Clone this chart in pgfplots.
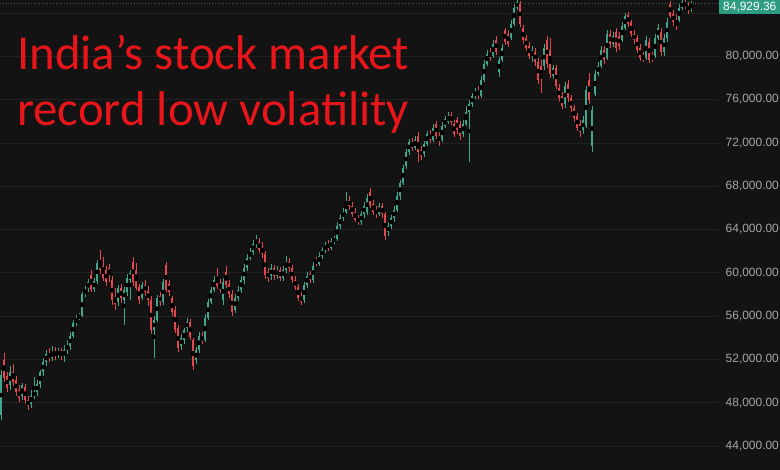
\documentclass[border=0pt]{standalone}
\usepackage{fontspec}
\setmainfont{Liberation Sans}
\newfontfamily\titlefont{Carlito}
\usepackage{pgfplots}
\usepackage{pgfplotstable}
\pgfplotsset{compat=1.18}
\definecolor{bg}{HTML}{131313}
\definecolor{gridc}{HTML}{222222}
\definecolor{upc}{HTML}{42A68C}
\definecolor{dnc}{HTML}{E4484F}
\definecolor{tickc}{HTML}{A6A6A6}
\definecolor{titlec}{HTML}{E8161B}
\definecolor{lastc}{HTML}{2E9C80}

% weekly candles: x o h l c
\pgfplotstableread{
x o h l c
1 46850 51010 46390 50550
10 49630 51380 49160 50830
22 48610 49810 48240 49630
31 47870 49160 47500 48610
34 48610 50370 48330 48980
37 48980 50090 48610 49720
40 49720 51010 49350 50830
43 50830 52120 50460 51750
46 51750 52860 51380 52490
52 52120 53230 51840 52680
58 52400 53050 52120 52770
64 52310 53320 51750 52860
67 52860 53780 52490 53320
70 53230 54520 52860 54150
73 54150 55630 53970 55360
76 55360 56090 55080 55820
79 55820 56280 55630 56000
82 56000 58220 55910 58030
85 58030 58770 57760 58400
88 58590 59420 58220 59140
94 58500 59510 58220 59240
97 59240 61180 58960 60900
118 57300 58870 56930 58590
124 57480 58680 55170 58400
127 58220 59880 57850 59510
130 59330 60250 57480 59980
142 57670 59140 57480 58870
154 54710 56000 52120 55630
157 55630 57940 55450 57670
163 57300 59420 57020 59140
181 53230 54340 52860 53970
184 53780 54890 53410 54710
187 54890 55820 54520 55450
196 51940 53140 51570 52860
199 52860 54520 52580 54150
205 53780 56190 53600 55820
208 55820 57570 55630 57300
211 57300 58680 57110 58400
214 58400 59700 58220 59330
223 57480 59510 57020 59140
235 56560 58030 56280 57670
238 57670 58770 57390 58400
241 58400 59700 58130 59330
244 59330 60810 58960 60440
247 60440 61730 60160 61360
250 61360 62290 61180 61920
253 61920 63020 61640 62650
256 62650 63490 62290 63020
271 59700 60810 59330 60440
277 59700 60620 59420 60250
283 59510 60620 59240 60250
286 60250 61550 59980 60990
304 57480 59140 57200 58870
307 58870 60070 58590 59700
313 59330 60990 59050 60620
319 60810 61920 60620 61550
322 61550 62380 61270 62100
325 62100 62840 61820 62470
331 62290 63210 62100 62930
334 62930 63390 62650 63120
337 63120 64690 62930 64320
340 64320 65430 64040 65060
343 65060 65980 64780 65610
346 65610 67460 65430 66540
361 64690 65700 64410 65430
364 65430 66540 65060 66170
367 65610 67270 65330 66910
379 65430 66440 65240 66170
388 63760 64690 63390 64320
391 64320 65330 64040 65060
394 65060 66170 64690 65800
397 65800 67460 65610 67090
400 67090 68570 66720 68290
403 68290 69950 68110 69680
406 69860 71430 69580 71160
409 71160 72360 70880 72080
415 71530 72630 71340 72260
424 70970 72170 70690 71890
427 71890 73100 71710 72820
433 72260 73740 72080 73370
442 72260 73930 72080 73560
445 73560 74480 73370 74200
448 73930 74850 73740 74480
463 72820 74110 72540 73740
466 73740 75410 73560 74850
469 74850 75960 70230 75590
472 75590 76610 75310 76330
475 76330 77070 76050 76700
481 76330 78180 76150 77810
484 77810 79660 77620 79290
487 79290 80580 79100 80210
493 80030 81500 79840 81130
499 78550 79930 78090 79660
502 79660 81130 79470 80770
511 81690 83350 81500 82980
514 82980 84830 82800 84460
517 84460 85200 84280 85020
532 80030 80950 79470 80580
544 79100 81130 78730 80770
553 78180 79190 77900 78920
565 75590 77620 75220 77250
583 73190 74480 72820 74110
586 73560 77250 73370 76880
592 71710 75410 71160 75040
595 76510 78730 76330 78360
598 78360 79470 78180 79100
601 79100 80950 78920 80580
607 79840 82430 79660 82060
613 81130 82240 80860 81870
622 81500 83170 81320 82800
625 82610 84000 82430 83720
646 79840 81870 79660 81500
655 80030 82060 79840 81690
658 81690 82980 81500 82610
664 80400 82060 80030 81690
667 81690 83540 81320 83170
679 83350 84830 83170 84460
682 84460 85200 84280 85020
691 84460 85110 84090 84930
}\up

\pgfplotstableread{
x o h l c
4 51940 52580 49900 50270
7 50460 50830 48980 49350
13 50830 51570 49530 49900
16 50090 50460 48610 48980
19 49160 49630 48060 48420
25 49440 49720 47870 48240
28 48240 48610 47320 47690
49 52490 53050 51750 52120
55 52680 53140 51940 52310
61 52770 53050 51940 52310
91 59790 60250 58220 58400
100 60990 62100 59880 60250
103 60620 61450 59240 59510
106 60250 60620 58770 59140
109 60440 60810 59140 59790
112 59330 59700 57020 57480
115 57670 58590 56560 57110
121 58590 58960 57200 57670
133 60990 61450 58770 59140
136 60250 60900 58400 58590
139 58680 58960 57110 57480
145 58870 59330 57850 58220
148 58310 58770 56930 57480
151 57480 57850 54340 54710
160 57850 58220 56930 57300
166 60710 60990 58220 58400
169 58960 59330 57850 58220
172 57670 57850 56000 56370
175 56560 56930 54430 54710
178 54890 55170 52680 53050
190 55450 55720 53780 54060
193 53780 53970 51010 51380
202 54150 54520 53410 53690
217 59700 60440 58500 58770
220 58960 59420 58130 58400
226 60070 60620 58590 58870
229 58960 59330 57670 58030
232 58030 58400 56000 56370
259 62840 63210 61820 62100
262 62290 62840 61360 61730
265 61730 62010 59420 59790
268 60070 60440 59140 59510
274 60440 60710 59330 59700
280 60250 60530 59240 59510
289 60990 61360 60070 60440
292 60440 60710 59050 59330
295 59330 59700 58400 58680
298 58680 58960 57390 57670
301 57850 58220 57020 57300
310 59880 60160 59050 59330
316 61180 61450 60620 60810
328 62650 63020 62010 62290
349 66720 67090 65800 66170
352 66170 66540 65150 65430
355 65610 65980 64690 64870
358 65060 65330 64410 64690
370 67460 67830 65980 66170
373 66350 66720 65330 65610
376 65800 66170 65060 65430
382 66170 66440 65060 65430
385 65430 65610 63020 63390
412 72080 72450 71250 71530
418 72630 73000 70230 71160
421 71340 71710 70420 70790
430 72820 73190 71990 72260
436 73740 74020 72360 72630
439 72630 73000 71710 72260
451 74570 74850 73650 73930
454 73740 74110 72540 72820
457 74110 74390 72820 73190
460 73740 74020 72260 72630
478 76790 77250 76050 76330
490 80400 80770 79560 79840
496 81500 81870 80120 80400
505 82430 82610 81040 81320
508 82060 82430 80860 81130
520 84830 85110 82710 82980
523 82610 82890 81130 81500
526 81690 81970 80490 80770
529 80950 81320 79750 80030
535 80400 80770 79100 79470
538 79470 79840 77440 77810
541 79100 79660 76610 77990
547 81500 81870 78920 79290
550 80580 81690 77990 78360
556 78920 79190 76980 77250
559 77070 77440 75780 76150
562 76330 76700 75130 75410
568 77440 77810 75780 76150
571 76150 76420 74850 75220
574 75220 75500 73930 74300
577 74480 74760 73100 73370
580 73740 74110 72540 73000
589 77810 78460 75590 75960
604 80580 80950 79290 79660
610 82060 82430 80770 81130
616 82240 82610 80400 80770
619 81870 82240 80580 80950
628 83810 84090 82710 82980
631 83170 83350 81780 82060
634 82060 82430 81130 81500
637 81690 81970 80300 80580
640 80770 81130 79560 79840
643 80030 80400 79470 79660
649 81320 81690 79380 79660
652 80030 80400 79470 79660
661 82240 82610 80030 80400
670 84830 85110 83540 83720
673 83910 84280 82800 83170
676 83170 83910 82430 82800
685 85020 85200 84370 84650
688 84650 85020 83910 84280
}\dn

\begin{document}
\begin{tikzpicture}
\useasboundingbox (0,0) rectangle (780bp,470bp);
\clip (0,0) rectangle (780bp,470bp);
\fill[bg] (0,0) rectangle (780bp,470bp);
\begin{axis}[
  at={(0,0)}, anchor=south west,
  scale only axis, width=718bp, height=470bp,
  xmin=0, xmax=718, ymin=41772, ymax=85200,
  axis line style={draw=none},
  major tick length=0pt, minor tick length=0pt,
  xtick=\empty,
  minor xtick={60,130,200,271,342,413,483,557,628,698},
  xminorgrids=true,
  ytick={44000,48000,...,80000},
  extra y ticks={84000}, extra y tick labels={},
  ymajorgrids=true,
  yticklabel pos=right,
  scaled y ticks=false,
  yticklabel style={anchor=west, inner sep=0pt, xshift=7.5bp,
    text=tickc, font=\fontsize{12}{14}\selectfont,
    /pgf/number format/.cd, fixed, fixed zerofill, precision=2,
    1000 sep={,}, assume math mode=true},
  grid style={gridc, line width=0.7bp},
  minor grid style={gridc, line width=0.7bp},
  clip=false,
]
\addplot[forget plot, upc!55!bg, dotted, line width=0.8bp]
  coordinates {(0,84929.36) (718,84929.36)};
% wicks
\addplot[forget plot, only marks, mark=none,
  error bars/.cd, y dir=both, y explicit, error mark=none,
  error bar style={upc, line width=1bp, line cap=butt}]
  table[x=x, y expr={(\thisrow{h}+\thisrow{l})/2},
        y error expr={(\thisrow{h}-\thisrow{l})/2}] {\up};
\addplot[forget plot, only marks, mark=none,
  error bars/.cd, y dir=both, y explicit, error mark=none,
  error bar style={dnc, line width=1bp, line cap=butt}]
  table[x=x, y expr={(\thisrow{h}+\thisrow{l})/2},
        y error expr={(\thisrow{h}-\thisrow{l})/2}] {\dn};
% bodies
\addplot[forget plot, only marks, mark=none,
  error bars/.cd, y dir=both, y explicit, error mark=none,
  error bar style={upc, line width=2.6bp, line cap=butt}]
  table[x=x, y expr={(\thisrow{o}+\thisrow{c})/2},
        y error expr={abs(\thisrow{c}-\thisrow{o})/2}] {\up};
\addplot[forget plot, only marks, mark=none,
  error bars/.cd, y dir=both, y explicit, error mark=none,
  error bar style={dnc, line width=2.6bp, line cap=butt}]
  table[x=x, y expr={(\thisrow{o}+\thisrow{c})/2},
        y error expr={abs(\thisrow{c}-\thisrow{o})/2}] {\dn};
\end{axis}
\node[anchor=north west, fill=lastc, text=white, inner xsep=4bp,
  inner ysep=1bp, minimum height=13.5bp, minimum width=61bp,
  font=\fontsize{12}{14}\selectfont] at (719bp,470bp) {84,929.36};
\node[anchor=base west, inner sep=0pt, text=titlec,
  font=\titlefont\fontsize{49}{56}\selectfont] at (17bp,400bp) {India’s stock market};
\node[anchor=base west, inner sep=0pt, text=titlec,
  font=\titlefont\fontsize{49}{56}\selectfont] at (17bp,344bp) {record low volatility};
\end{tikzpicture}
\end{document}
